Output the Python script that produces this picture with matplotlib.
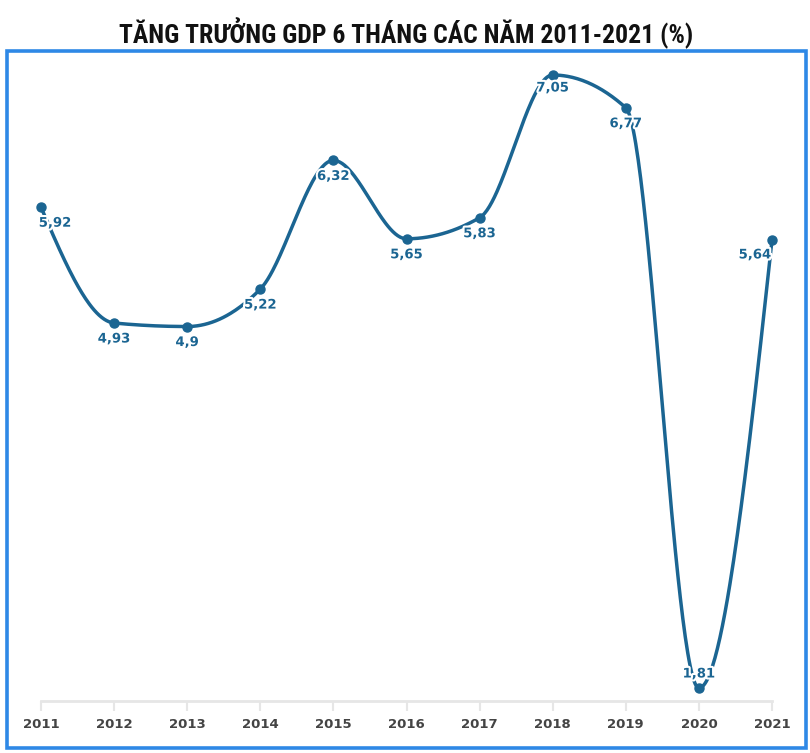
import numpy as np
import matplotlib
matplotlib.use("Agg")
import matplotlib.pyplot as plt
from matplotlib.patches import Rectangle
import matplotlib.patheffects as pe
from matplotlib import font_manager as fm

years = [2011, 2012, 2013, 2014, 2015, 2016, 2017, 2018, 2019, 2020, 2021]
growth = [5.92, 4.93, 4.90, 5.22, 6.32, 5.65, 5.83, 7.05, 6.77, 1.81, 5.64]
labels = ["5,92", "4,93", "4,9", "5,22", "6,32", "5,65", "5,83", "7,05", "6,77", "1,81", "5,64"]
title = "T\u0102NG TR\u01af\u1edeNG GDP 6 TH\u00c1NG C\u00c1C N\u0102M 2011-2021 (%)"

LINE = "#1b6592"
W, H = 810, 753

names = sorted({f.name for f in fm.fontManager.ttflist})
cands = ["Roboto Condensed", "Liberation Sans Narrow", "DejaVu Sans Condensed", "Roboto"]
title_fam = [c for c in cands if c in names][:1] + ["DejaVu Sans"]


def monotone_curve(x, y, n=60):
    x = np.asarray(x, float); y = np.asarray(y, float)
    h = np.diff(x); s = np.diff(y) / h
    m = len(x)
    t = np.zeros(m)
    for i in range(1, m - 1):
        p = (s[i - 1] * h[i] + s[i] * h[i - 1]) / (h[i - 1] + h[i])
        t[i] = (np.sign(s[i - 1]) + np.sign(s[i])) * min(abs(s[i - 1]), abs(s[i]), 0.5 * abs(p))
    t[0] = (3 * s[0] - t[1]) / 2
    t[-1] = (3 * s[-1] - t[-2]) / 2
    xs, ys = [], []
    for i in range(m - 1):
        dx = (x[i + 1] - x[i]) / 3
        P0 = np.array([x[i], y[i]])
        P1 = np.array([x[i] + dx, y[i] + dx * t[i]])
        P2 = np.array([x[i + 1] - dx, y[i + 1] - dx * t[i + 1]])
        P3 = np.array([x[i + 1], y[i + 1]])
        u = np.linspace(0, 1, n)[:, None]
        B = (1 - u) ** 3 * P0 + 3 * (1 - u) ** 2 * u * P1 + 3 * (1 - u) * u ** 2 * P2 + u ** 3 * P3
        xs.extend(B[:, 0]); ys.extend(B[:, 1])
    return np.array(xs), np.array(ys)


fig = plt.figure(figsize=(W / 100, H / 100), dpi=100)
fig.patch.set_facecolor("white")

fig.patches.append(Rectangle((7 / W, 1 - 748 / H), (806 - 7) / W, (748 - 51) / H,
                             transform=fig.transFigure, fill=False,
                             edgecolor="#2e88e6", linewidth=2.6, zorder=0))

fig.text(406 / W, 1 - 33 / H, title, ha="center", va="center",
         fontsize=18.5, fontweight="heavy", family=title_fam, fontstretch="condensed",
         color="#111111")

left, right = 41 / W, 772 / W
bottom, top = 1 - 701 / H, 1 - 60 / H
ax = fig.add_axes([left, bottom, right - left, top - bottom])
ax.set_xlim(2011, 2021)
scale = 613 / 5.24
ax.set_ylim(1.81 - 13 / scale, 7.05 + 15 / scale)

cx, cy = monotone_curve(years, growth)
ax.plot(cx, cy, color=LINE, lw=2.5, clip_on=False, zorder=3, solid_capstyle="round")
ax.plot(years, growth, "o", color=LINE, ms=6.5, clip_on=False, zorder=4)

offsets = [(14, -16), (0, -16), (0, -16), (0, -16), (0, -16), (0, -16), (0, -16),
           (0, -13), (0, -16), (0, 14), (-17, -15)]
for xv, yv, lab, off in zip(years, growth, labels, offsets):
    ax.annotate(lab, (xv, yv), xytext=off, textcoords="offset pixels",
                ha="center", va="center", fontsize=9.5, fontweight="bold",
                color=LINE, zorder=5, annotation_clip=False,
                path_effects=[pe.withStroke(linewidth=3, foreground="white")])

for sp in ["top", "right", "left"]:
    ax.spines[sp].set_visible(False)
ax.spines["bottom"].set_color("#e6e6e6")
ax.spines["bottom"].set_linewidth(2)
ax.set_yticks([])
ax.set_xticks(years)
ax.set_xticklabels([str(y) for y in years])
ax.tick_params(axis="x", colors="#e6e6e6", length=7, width=1.5, pad=5,
               labelcolor="#444444", labelsize=9.5)
for tl in ax.get_xticklabels():
    tl.set_fontweight("bold")
ax.patch.set_alpha(0)

fig.savefig("out.png", dpi=100)
